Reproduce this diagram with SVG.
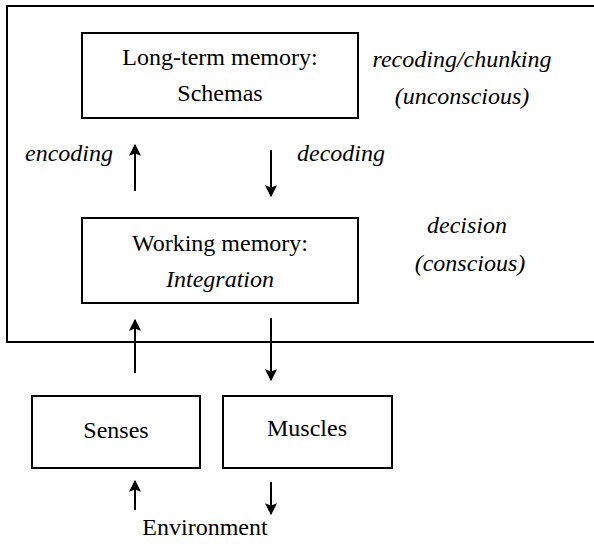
<svg xmlns="http://www.w3.org/2000/svg" width="594" height="544" viewBox="0 0 594 544">
<defs>
<style>
.box{fill:#fff;stroke:#000;stroke-width:2}
.t{font-family:'Liberation Serif','Times New Roman','DejaVu Serif',serif;font-size:24px;fill:#000;text-anchor:middle}
.i{font-style:italic}
.c{stroke:#000;stroke-width:2;fill:none}
</style>
<marker id="ah" viewBox="0 0 10 10" refX="9" refY="5" markerWidth="6.5" markerHeight="6" orient="auto" markerUnits="strokeWidth">
<path d="M0,0 L10,5 L0,10 L2,5 Z" fill="#000"/>
</marker>
</defs>
<rect width="594" height="544" fill="#fff"/>
<g id="frame"><rect x="7" y="6" width="600" height="336" fill="none" stroke="#000" stroke-width="2"/></g>
<g id="ltm">
<rect class="box" x="82" y="33" width="276" height="85"/>
<text class="t" x="220" y="65">Long-term memory:</text>
<text class="t" x="220" y="101">Schemas</text>
</g>
<g id="labels">
<text class="t i" x="462" y="67">recoding/chunking</text>
<text class="t i" x="462" y="104">(unconscious)</text>
<text class="t i" x="69" y="161">encoding</text>
<text class="t i" x="341" y="161">decoding</text>
<text class="t i" x="467" y="233">decision</text>
<text class="t i" x="470" y="271">(conscious)</text>
</g>
<g id="wm">
<rect class="box" x="82" y="218" width="276" height="85"/>
<text class="t" x="220" y="251">Working memory:</text>
<text class="t i" x="220" y="287">Integration</text>
</g>
<g id="senses">
<rect class="box" x="32" y="396" width="168" height="72"/>
<text class="t" x="116" y="438">Senses</text>
</g>
<g id="muscles">
<rect class="box" x="223" y="396" width="169" height="72"/>
<text class="t" x="307" y="436">Muscles</text>
</g>
<g id="environment">
<text class="t" x="205" y="535">Environment</text>
</g>
<g id="connectors">
<line class="c" x1="135" y1="191" x2="135" y2="145" marker-end="url(#ah)"/>
<line class="c" x1="271" y1="150" x2="271" y2="196" marker-end="url(#ah)"/>
<line class="c" x1="135" y1="373" x2="135" y2="320" marker-end="url(#ah)"/>
<line class="c" x1="271" y1="318" x2="271" y2="380" marker-end="url(#ah)"/>
<line class="c" x1="135" y1="510" x2="135" y2="481" marker-end="url(#ah)"/>
<line class="c" x1="271" y1="482" x2="271" y2="514" marker-end="url(#ah)"/>
</g>
</svg>
